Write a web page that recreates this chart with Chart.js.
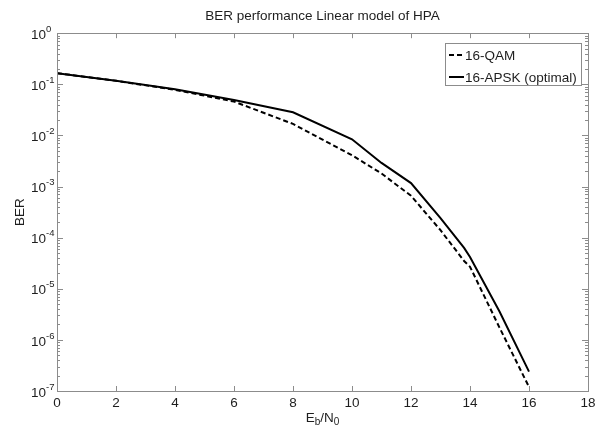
<!DOCTYPE html>
<html lang="en">
<head>
<meta charset="UTF-8">
<title>BER performance Linear model of HPA</title>
<script src="https://cdn.jsdelivr.net/npm/chart.js"></script>
<style>
  html, body { margin: 0; padding: 0; background: #fff; }
</style>
</head>
<body>
<canvas id="berChart" width="606" height="432"></canvas>
<script>
// Eb/N0 sample points
const ebn0 = [0, 2, 4, 6, 8, 10, 11, 12, 13, 13.8, 14, 15, 16];
// BER
const berQam  = [0.165, 0.117, 0.078, 0.046, 0.0168, 0.0041, 1.8e-3, 6.6e-4, 1.4e-4, 3.5e-5, 2.7e-5, 1.74e-6, 1.2e-7];
const berApsk = [0.165, 0.117, 0.080, 0.0495, 0.0284, 0.0084, 2.9e-3, 1.17e-3, 2.4e-4, 6.3e-5, 4.2e-5, 3.6e-6, 2.4e-7];
const seriesNames = ['16-QAM', '16-APSK (optimal)'];
const xTicks = [0, 2, 4, 6, 8, 10, 12, 14, 16, 18];
const yExponents = [0, -1, -2, -3, -4, -5, -6, -7];

const FONT = '"Liberation Sans", Arial, sans-serif';
const frameColor = '#8c8c8c';
const textColor = '#1e1e1e';

// MATLAB-like frame: box, inward ticks, 10^n labels, legend, axis titles
const matlabAxes = {
    id: 'matlabAxes',
    afterDatasetsDraw(chart) {
        const { ctx, chartArea: a, scales: { x, y } } = chart;
        ctx.save();
        ctx.strokeStyle = frameColor;
        ctx.lineWidth = 1;
        ctx.setLineDash([]);
        ctx.strokeRect(Math.round(a.left) + 0.5, Math.round(a.top) + 0.5,
            Math.round(a.right - a.left), Math.round(a.bottom - a.top));

        ctx.beginPath();
        xTicks.forEach(v => {
            const px = Math.round(x.getPixelForValue(v)) + 0.5;
            ctx.moveTo(px, a.bottom); ctx.lineTo(px, a.bottom - 5);
            ctx.moveTo(px, a.top); ctx.lineTo(px, a.top + 5);
        });
        yExponents.forEach(e => {
            const py = Math.round(y.getPixelForValue(Math.pow(10, e))) + 0.5;
            ctx.moveTo(a.left, py); ctx.lineTo(a.left + 6, py);
            ctx.moveTo(a.right, py); ctx.lineTo(a.right - 6, py);
            if (e < 0) {
                for (let m = 2; m <= 9; m++) {
                    const pm = Math.round(y.getPixelForValue(m * Math.pow(10, e))) + 0.5;
                    ctx.moveTo(a.left, pm); ctx.lineTo(a.left + 3, pm);
                    ctx.moveTo(a.right, pm); ctx.lineTo(a.right - 3, pm);
                }
            }
        });
        ctx.stroke();

        // y tick labels 10^n
        ctx.fillStyle = textColor;
        yExponents.forEach(e => {
            const py = y.getPixelForValue(Math.pow(10, e));
            ctx.font = '13.5px ' + FONT;
            ctx.textAlign = 'right';
            ctx.textBaseline = 'middle';
            ctx.fillText('10', 46, py + 2);
            ctx.font = '9.5px ' + FONT;
            ctx.textAlign = 'left';
            ctx.fillText(String(e), 46, py - 4);
        });

        // y title
        ctx.save();
        ctx.translate(20, (a.top + a.bottom) / 2);
        ctx.rotate(-Math.PI / 2);
        ctx.font = '13.5px ' + FONT;
        ctx.textAlign = 'center';
        ctx.textBaseline = 'middle';
        ctx.fillText('BER', 0, 0);
        ctx.restore();

        // x title E_b/N_0
        const parts = [['E', 13.5, 0], ['b', 10, 4], ['/N', 13.5, 0], ['0', 10, 4]];
        let total = 0;
        parts.forEach(p => { ctx.font = p[1] + 'px ' + FONT; total += ctx.measureText(p[0]).width; });
        let cx = (a.left + a.right) / 2 - total / 2;
        ctx.textAlign = 'left';
        ctx.textBaseline = 'middle';
        parts.forEach(p => {
            ctx.font = p[1] + 'px ' + FONT;
            ctx.fillText(p[0], cx, 418 + p[2]);
            cx += ctx.measureText(p[0]).width;
        });

        // legend box
        const lx = 445, ly = 43, lw = 136, lh = 42;
        ctx.fillStyle = '#fff';
        ctx.fillRect(lx, ly, lw, lh);
        ctx.strokeStyle = frameColor;
        ctx.strokeRect(lx + 0.5, ly + 0.5, lw, lh);
        chart.data.datasets.forEach((ds, i) => {
            const ry = ly + 12 + i * 22;
            ctx.strokeStyle = '#000';
            ctx.lineWidth = 2;
            ctx.setLineDash(ds.borderDash || []);
            ctx.beginPath();
            ctx.moveTo(449, ry); ctx.lineTo(464, ry);
            ctx.stroke();
            ctx.setLineDash([]);
            ctx.fillStyle = textColor;
            ctx.font = '13.5px ' + FONT;
            ctx.textAlign = 'left';
            ctx.textBaseline = 'middle';
            ctx.fillText(ds.label, 465, ry + 1);
        });
        ctx.restore();
    }
};

const ctx = document.getElementById('berChart').getContext('2d');
new Chart(ctx, {
    type: 'line',
    data: {
        datasets: [{
            label: seriesNames[0],
            data: ebn0.map((v, i) => ({ x: v, y: berQam[i] })),
            borderColor: '#000',
            borderWidth: 2,
            borderDash: [5, 3],
            pointRadius: 0,
            tension: 0
        }, {
            label: seriesNames[1],
            data: ebn0.map((v, i) => ({ x: v, y: berApsk[i] })),
            borderColor: '#000',
            borderWidth: 2,
            pointRadius: 0,
            tension: 0
        }]
    },
    options: {
        responsive: false,
        animation: false,
        layout: { padding: { left: 57, right: 18, top: 0, bottom: 0 } },
        plugins: {
            legend: { display: false },
            tooltip: { enabled: false },
            title: {
                display: true,
                text: 'BER performance Linear model of HPA',
                color: textColor,
                font: { family: FONT, size: 13.5, weight: 'normal' },
                padding: { top: 8, bottom: 9 }
            }
        },
        scales: {
            x: {
                type: 'linear',
                min: 0,
                max: 18,
                grid: { display: false, drawTicks: false },
                border: { display: false },
                ticks: {
                    stepSize: 2,
                    color: textColor,
                    font: { family: FONT, size: 13.5 },
                    padding: 4,
                    maxRotation: 0
                },
                afterFit: s => { s.height = 41; }
            },
            y: {
                type: 'logarithmic',
                display: false,
                min: 1e-7,
                max: 1
            }
        }
    },
    plugins: [matlabAxes]
});
</script>
</body>
</html>
